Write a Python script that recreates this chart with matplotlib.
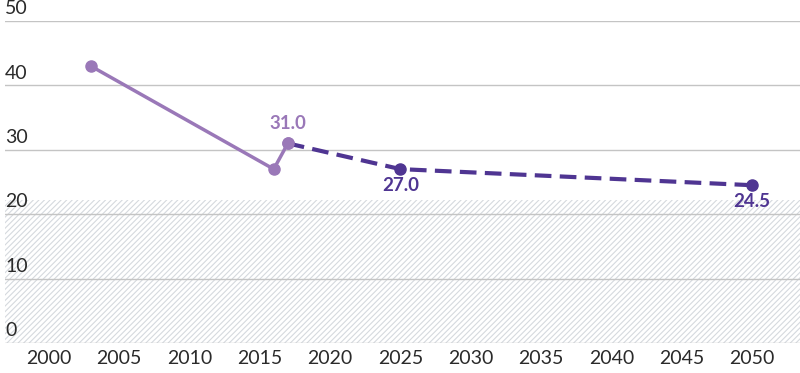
import matplotlib
matplotlib.use('Agg')
import matplotlib.pyplot as plt

plt.rcParams['font.family'] = ['Lato', 'DejaVu Sans']
plt.rcParams['hatch.color'] = '#d5d9de'
plt.rcParams['hatch.linewidth'] = 0.8

# 数据
hist_years = [2003, 2016, 2017]
hist_values = [43.0, 27.0, 31.0]
proj_years = [2017, 2025, 2050]
proj_values = [31.0, 27.0, 24.5]
y_ticks = [0, 10, 20, 30, 40, 50]
x_ticks = [2000, 2005, 2010, 2015, 2020, 2025, 2030, 2035, 2040, 2045, 2050]
shade_top = 22.2

light = '#9a78b8'
dark = '#4f3592'

fig = plt.figure(figsize=(8, 3.73), dpi=100)
ax = fig.add_axes([5 / 800, 30 / 373, 795 / 800, 322 / 373])
ax.set_xlim(1996.9, 2053.4)
ax.set_ylim(0, 50)

# 阴影区域
ax.fill_between([1996.9, 2053.4], 0, shade_top, facecolor='white',
                edgecolor='#d5d9de', hatch='//////', linewidth=0, zorder=0)

# 网格线
for y in y_ticks:
    ax.axhline(y, color='#c4c4c4', linewidth=1, zorder=1)
    ax.text(1996.9, y + 0.6, str(y), fontsize=14, color='#2a2a2a',
            ha='left', va='bottom', zorder=2)

ax.plot(hist_years, hist_values, '-o', color=light, linewidth=2.5,
        markersize=8, zorder=3)
ax.plot(proj_years, proj_values, '--', color=dark, linewidth=3,
        dashes=(4, 2), zorder=3)
ax.plot(proj_years[1:], proj_values[1:], 'o', color=dark, markersize=8, zorder=4)
ax.plot(proj_years[:1], proj_values[:1], 'o', color=light, markersize=8, zorder=4)

# 数值标注
ax.text(proj_years[0], proj_values[0] + 1.7, f"{proj_values[0]:.1f}",
        color=light, fontsize=13.5, fontweight='bold', ha='center', va='bottom')
for x, y in zip(proj_years[1:], proj_values[1:]):
    ax.text(x, y - 1.2, f"{y:.1f}", color=dark, fontsize=13.5,
            fontweight='bold', ha='center', va='top')

ax.set_xticks(x_ticks)
ax.set_xticklabels([str(x) for x in x_ticks], fontsize=14, color='#2a2a2a')
ax.tick_params(axis='x', length=0, pad=5)
ax.set_yticks([])
for s in ax.spines.values():
    s.set_visible(False)

plt.savefig('out.png', dpi=100)
